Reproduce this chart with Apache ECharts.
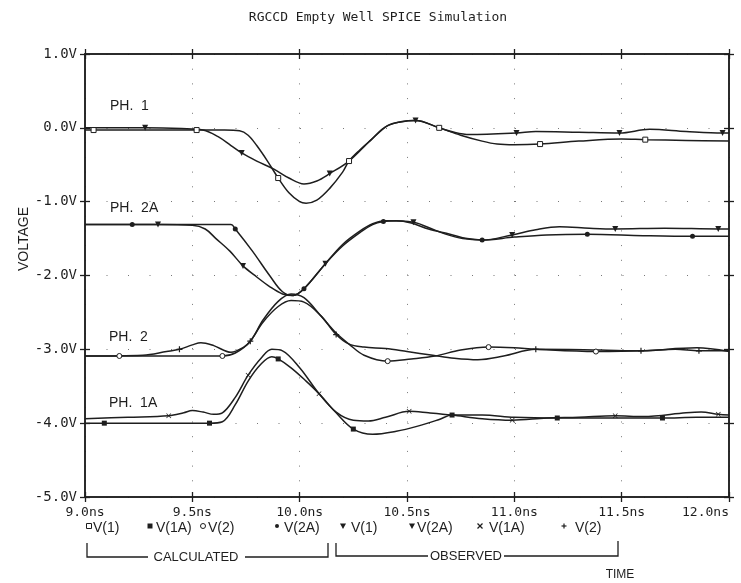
<!DOCTYPE html>
<html>
<head>
<meta charset="utf-8">
<script src="https://cdn.jsdelivr.net/npm/echarts@6/dist/echarts.min.js"></script>
<style>html,body{margin:0;padding:0;background:#fff}#c{width:741px;height:583px}</style>
</head>
<body>
<div id="c"></div>
<script>
// ---- tick labels ----
const xTicks = [9.0, 9.5, 10.0, 10.5, 11.0, 11.5, 12.0];
const yTicks = [1.0, 0.0, -1.0, -2.0, -3.0, -4.0, -5.0];

// ---- series values: [time ns, volts, marker flag] ----
const calcV1 = [[9.0,-0.03],[9.04,-0.03,1],[9.3,-0.03],[9.52,-0.03,1],[9.65,-0.03],[9.72,-0.04],[9.76,-0.10],[9.8,-0.24],[9.85,-0.45],[9.9,-0.68,1],[9.95,-0.88],[10.0,-1.0],[10.03,-1.02],[10.08,-0.98],[10.14,-0.82],[10.2,-0.6],[10.23,-0.45,1],[10.28,-0.3],[10.33,-0.17],[10.41,0.03],[10.47,0.08],[10.54,0.1],[10.65,0.0,1],[10.75,-0.1],[10.85,-0.18],[10.92,-0.22],[11.0,-0.23],[11.12,-0.22,1],[11.3,-0.18],[11.5,-0.15],[11.61,-0.16,1],[11.8,-0.17],[12.0,-0.18]];
const calcV1A = [[9.0,-4.0],[9.09,-4.0,1],[9.4,-4.0],[9.58,-4.0,1],[9.64,-3.98],[9.7,-3.75],[9.76,-3.43],[9.82,-3.2],[9.87,-3.1],[9.9,-3.13,1],[9.96,-3.25],[10.03,-3.43],[10.09,-3.6],[10.17,-3.86],[10.25,-4.08,1],[10.34,-4.15],[10.45,-4.11],[10.55,-4.04],[10.65,-3.95],[10.71,-3.89,1],[10.85,-3.89],[11.0,-3.92],[11.2,-3.93,1],[11.45,-3.93],[11.69,-3.93,1],[11.85,-3.92],[12.0,-3.92]];
const calcV2 = [[9.0,-3.09],[9.16,-3.09,1],[9.4,-3.09],[9.64,-3.09,1],[9.7,-3.05],[9.77,-2.89],[9.83,-2.6],[9.9,-2.35],[9.96,-2.25],[10.02,-2.3],[10.1,-2.55],[10.17,-2.78],[10.23,-2.93],[10.3,-3.08],[10.41,-3.16,1],[10.52,-3.13],[10.63,-3.09],[10.75,-3.01],[10.88,-2.97,1],[11.0,-2.98],[11.1,-3.0],[11.38,-3.03,1],[11.6,-3.02],[11.85,-2.98],[12.0,-3.03]];
const calcV2A = [[9.0,-1.31],[9.22,-1.31,1],[9.5,-1.31],[9.68,-1.31],[9.70,-1.37,1],[9.78,-1.67],[9.86,-2.0],[9.92,-2.22],[9.97,-2.27],[10.02,-2.18,1],[10.12,-1.84],[10.2,-1.6],[10.28,-1.42],[10.34,-1.31],[10.39,-1.27,1],[10.45,-1.26],[10.52,-1.29],[10.6,-1.37],[10.7,-1.44],[10.78,-1.50],[10.85,-1.52,1],[11.0,-1.48],[11.15,-1.45],[11.34,-1.44,1],[11.6,-1.46],[11.83,-1.47,1],[12.0,-1.47]];
const obsV1 = [[9.0,0.0],[9.28,0.0,1],[9.45,-0.01],[9.55,-0.03],[9.62,-0.12],[9.68,-0.24],[9.73,-0.34,1],[9.8,-0.45],[9.88,-0.56],[9.95,-0.68],[10.02,-0.76],[10.08,-0.72],[10.14,-0.62,1],[10.23,-0.45],[10.33,-0.17],[10.41,0.03],[10.54,0.1,1],[10.65,0.0],[10.72,-0.06],[10.79,-0.09],[11.01,-0.07,1],[11.1,-0.05],[11.3,-0.06],[11.49,-0.07,1],[11.63,-0.02],[11.8,-0.05],[11.97,-0.07,1],[12.0,-0.07]];
const obsV2A = [[9.0,-1.31],[9.34,-1.31,1],[9.5,-1.32],[9.56,-1.37],[9.61,-1.5],[9.675,-1.67],[9.736,-1.87,1],[9.8,-2.02],[9.86,-2.15],[9.92,-2.25],[9.97,-2.27],[10.02,-2.18],[10.12,-1.84,1],[10.2,-1.58],[10.28,-1.40],[10.34,-1.30],[10.4,-1.26],[10.53,-1.28,1],[10.6,-1.35],[10.68,-1.44],[10.76,-1.5],[10.85,-1.52],[10.99,-1.45,1],[11.1,-1.38],[11.21,-1.34],[11.35,-1.36],[11.47,-1.37,1],[11.7,-1.36],[11.95,-1.37,1],[12.0,-1.37]];
const obsV1A = [[9.0,-3.94],[9.2,-3.92],[9.39,-3.90,1],[9.46,-3.86],[9.5,-3.83],[9.55,-3.85],[9.6,-3.88],[9.64,-3.86],[9.7,-3.65],[9.76,-3.35,1],[9.82,-3.12],[9.87,-3.0],[9.92,-3.02],[10.0,-3.25],[10.09,-3.6,1],[10.17,-3.85],[10.25,-3.96],[10.32,-3.97],[10.4,-3.92],[10.51,-3.84,1],[10.6,-3.86],[10.71,-3.89],[10.85,-3.94],[10.99,-3.96,1],[11.15,-3.93],[11.3,-3.92],[11.47,-3.90,1],[11.6,-3.91],[11.8,-3.86],[11.87,-3.85],[11.95,-3.88,1],[12.0,-3.89]];
const obsV2 = [[9.0,-3.09],[9.27,-3.08],[9.38,-3.03],[9.44,-3.0,1],[9.5,-2.94],[9.54,-2.91],[9.6,-2.95],[9.68,-3.04],[9.74,-2.97],[9.77,-2.89,1],[9.83,-2.63],[9.9,-2.42],[9.96,-2.34],[10.02,-2.36],[10.1,-2.55],[10.17,-2.8,1],[10.23,-2.93],[10.3,-2.97],[10.4,-2.99],[10.5,-3.03],[10.62,-3.08],[10.72,-3.12],[10.83,-3.14],[10.95,-3.09],[11.1,-3.0,1],[11.4,-3.01],[11.59,-3.02,1],[11.75,-3.0],[11.86,-3.02,1],[12.0,-3.02]];

const INK = '#1e1e1e';
const X_SYM = 'path://M0,1L1,0L5,4L9,0L10,1L6,5L10,9L9,10L5,6L1,10L0,9L4,5Z';
const PLUS_SYM = 'path://M4,0H6V4H10V6H6V10H4V6H0V4H4Z';

function mk(name, pts, symbol, size, open, rot) {
  return {
    type: 'line', name: name, xAxisIndex: 0, yAxisIndex: 0,
    smooth: 0.35, symbol: symbol, symbolSize: size, symbolRotate: rot || 0,
    showSymbol: true, showAllSymbol: true,
    lineStyle: { color: INK, width: 1.5 },
    itemStyle: { color: open ? '#fff' : INK, borderColor: INK, borderWidth: open ? 1 : 0 },
    emphasis: { disabled: true },
    animation: false,
    data: pts.map(p => p[2] ? { value: [p[0], p[1]] } : { value: [p[0], p[1]], symbol: 'none' })
  };
}

const chart = echarts.init(document.getElementById('c'), null, { renderer: 'canvas' });
const gridRect = { left: 85, right: 12, top: 54, bottom: 86 };
const monoFont = '"DejaVu Sans Mono", monospace';
const sansFont = '"Liberation Sans", Arial, sans-serif';

function xa(grid, pos, inside, labels, split) {
  return {
    type: 'value', gridIndex: grid, position: pos, min: 9, max: 12, interval: 0.5,
    axisLine: { show: true, onZero: false, lineStyle: { color: INK, width: 1.5 } },
    axisTick: { show: true, inside: inside, length: 5, lineStyle: { color: INK, width: 1.3 } },
    axisLabel: { show: labels, color: INK, fontFamily: monoFont, fontSize: 13, margin: 9,
      alignMaxLabel: 'right', formatter: v => v.toFixed(1) + 'ns' },
    splitLine: { show: split, lineStyle: { color: '#777', width: 1, type: [1, 13.7] } }
  };
}
function ya(grid, pos, inside, labels, split) {
  return {
    type: 'value', gridIndex: grid, position: pos, min: -5, max: 1, interval: 1,
    axisLine: { show: true, onZero: false, lineStyle: { color: INK, width: 1.5 } },
    axisTick: { show: true, inside: inside, length: 5, lineStyle: { color: INK, width: 1.3 } },
    axisLabel: { show: labels, color: INK, fontFamily: monoFont, fontSize: 14, margin: 8,
      formatter: v => v.toFixed(1) + 'V' },
    splitLine: { show: split, lineStyle: { color: '#777', width: 1, type: [1, 20.5] } }
  };
}

const legendItems = [
  { sym: 'osq', x: 89, label: 'V(1)', lx: 93 },
  { sym: 'fsq', x: 150, label: 'V(1A)', lx: 156 },
  { sym: 'ocir', x: 203, label: 'V(2)', lx: 208 },
  { sym: 'fcir', x: 277, label: 'V(2A)', lx: 284 },
  { sym: 'tri', x: 343, label: 'V(1)', lx: 351 },
  { sym: 'tri', x: 412, label: 'V(2A)', lx: 417 },
  { sym: 'x', x: 480, label: 'V(1A)', lx: 489 },
  { sym: 'plus', x: 564, label: 'V(2)', lx: 575 }
];
const LY = 528;
const graphics = [];
legendItems.forEach(it => {
  const cy = LY - 2;
  let g;
  if (it.sym === 'osq') g = { type: 'rect', shape: { x: it.x - 2.5, y: cy - 2.5, width: 5, height: 5 }, style: { fill: '#fff', stroke: INK, lineWidth: 1 } };
  else if (it.sym === 'fsq') g = { type: 'rect', shape: { x: it.x - 2.5, y: cy - 2.5, width: 5, height: 5 }, style: { fill: INK } };
  else if (it.sym === 'ocir') g = { type: 'circle', shape: { cx: it.x, cy: cy, r: 2.5 }, style: { fill: '#fff', stroke: INK, lineWidth: 1 } };
  else if (it.sym === 'fcir') g = { type: 'circle', shape: { cx: it.x, cy: cy, r: 2 }, style: { fill: INK } };
  else if (it.sym === 'tri') g = { type: 'polygon', shape: { points: [[it.x - 3, cy - 2.5], [it.x + 3, cy - 2.5], [it.x, cy + 3]] }, style: { fill: INK } };
  else if (it.sym === 'x') g = { type: 'group', children: [
      { type: 'line', shape: { x1: it.x - 2.5, y1: cy - 2.5, x2: it.x + 2.5, y2: cy + 2.5 }, style: { stroke: INK, lineWidth: 1.2 } },
      { type: 'line', shape: { x1: it.x + 2.5, y1: cy - 2.5, x2: it.x - 2.5, y2: cy + 2.5 }, style: { stroke: INK, lineWidth: 1.2 } }] };
  else g = { type: 'group', children: [
      { type: 'line', shape: { x1: it.x - 2.5, y1: cy, x2: it.x + 2.5, y2: cy }, style: { stroke: INK, lineWidth: 1.2 } },
      { type: 'line', shape: { x1: it.x, y1: cy - 2.5, x2: it.x, y2: cy + 2.5 }, style: { stroke: INK, lineWidth: 1.2 } }] };
  graphics.push(g);
  graphics.push({ type: 'text', x: it.lx, y: LY, style: { text: it.label, fill: INK, font: '14px ' + sansFont, textVerticalAlign: 'middle', textAlign: 'left' } });
});
// brackets
const br = (pts) => ({ type: 'polyline', shape: { points: pts }, style: { stroke: INK, lineWidth: 1.3, fill: null } });
graphics.push(br([[87, 543], [87, 557], [148, 557]]));
graphics.push(br([[245, 557], [328, 557], [328, 543]]));
graphics.push({ type: 'text', x: 196, y: 557, style: { text: 'CALCULATED', fill: INK, font: '13px ' + sansFont, textAlign: 'center', textVerticalAlign: 'middle' } });
graphics.push(br([[336, 543], [336, 556], [428, 556]]));
graphics.push(br([[504, 556], [618, 556], [618, 541]]));
graphics.push({ type: 'text', x: 466, y: 556, style: { text: 'OBSERVED', fill: INK, font: '13px ' + sansFont, textAlign: 'center', textVerticalAlign: 'middle' } });
graphics.push({ type: 'text', x: 620, y: 575, style: { text: 'TIME', fill: INK, font: '12px ' + sansFont, textAlign: 'center', textVerticalAlign: 'middle' } });
graphics.push({ type: 'text', x: 24, y: 239, rotation: Math.PI / 2, style: { text: 'VOLTAGE', fill: INK, font: '14px ' + sansFont, textAlign: 'center', textVerticalAlign: 'middle' } });
// phase labels
[['PH.  1', 110, 106], ['PH.  2A', 110, 208], ['PH.  2', 109, 337], ['PH.  1A', 109, 403]].forEach(p => {
  graphics.push({ type: 'text', x: p[1], y: p[2], style: { text: p[0], fill: INK, font: '14px ' + sansFont, textAlign: 'left', textVerticalAlign: 'middle' } });
});

chart.setOption({
  backgroundColor: '#fff',
  animation: false,
  title: { text: 'RGCCD Empty Well SPICE Simulation', left: 373, top: 6, textAlign: 'center',
    textStyle: { fontFamily: monoFont, fontSize: 13, fontWeight: 'normal', color: INK } },
  grid: [Object.assign({}, gridRect), Object.assign({}, gridRect)],
  xAxis: [xa(0, 'bottom', false, true, true), xa(0, 'top', false, false, false),
          xa(1, 'bottom', true, false, false), xa(1, 'top', true, false, false)],
  yAxis: [ya(0, 'left', false, true, true), ya(0, 'right', false, false, false),
          ya(1, 'left', true, false, false), ya(1, 'right', true, false, false)],
  series: [
    mk('V(1) calc', calcV1, 'rect', 5, true),
    mk('V(1A) calc', calcV1A, 'rect', 5, false),
    mk('V(2) calc', calcV2, 'circle', 5, true),
    mk('V(2A) calc', calcV2A, 'circle', 5, false),
    mk('V(1) obs', obsV1, 'triangle', 6, false, 180),
    mk('V(2A) obs', obsV2A, 'triangle', 6, false, 180),
    mk('V(1A) obs', obsV1A, X_SYM, 5, false),
    mk('V(2) obs', obsV2, PLUS_SYM, 6, false)
  ],
  graphic: { elements: graphics }
});
</script>
</body>
</html>
